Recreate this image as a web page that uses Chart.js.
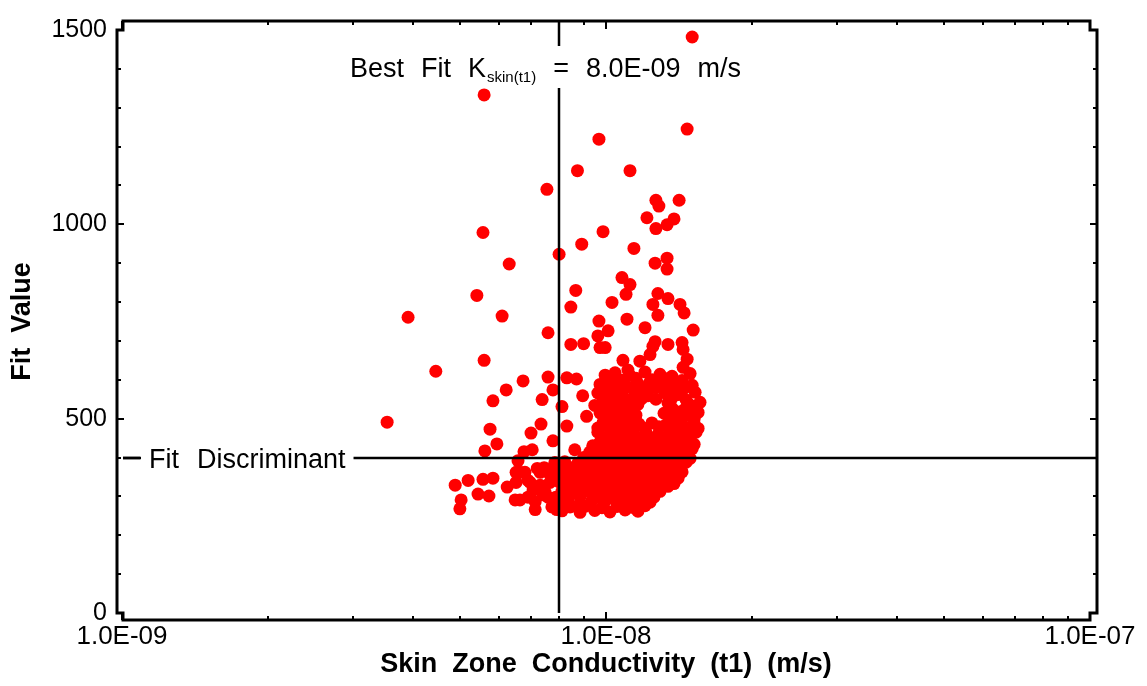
<!DOCTYPE html>
<html>
<head>
<meta charset="utf-8">
<script src="https://cdn.jsdelivr.net/npm/chart.js@4/dist/chart.umd.min.js"></script>
<style>
  html, body { margin: 0; padding: 0; background: #fff; }
  canvas { display: block; }
</style>
</head>
<body>
<canvas id="fitChart" width="1147" height="686"></canvas>
<script>
// Axis limits and tick values
const kRange = [1e-9, 1e-7];
const fitRange = [0, 1500];
const fitTicks = [0, 500, 1000, 1500];

// Reference lines
const bestFitK = 8.0e-9;
const fitDiscriminant = 400;

// [conductivity (m/s), fit value] - sparse upper part
const upperPoints = [
    [15.07e-9, 1482], [5.60e-9, 1333], [14.71e-9, 1245], [9.67e-9, 1219],
    [8.73e-9, 1138], [11.21e-9, 1138], [7.55e-9, 1090], [12.68e-9, 1062],
    [12.86e-9, 1047], [14.16e-9, 1062], [12.15e-9, 1017], [12.68e-9, 989],
    [13.37e-9, 999], [13.82e-9, 1014], [5.57e-9, 979], [9.86e-9, 981],
    [8.91e-9, 949], [11.42e-9, 938], [8.00e-9, 923], [12.63e-9, 900],
    [13.37e-9, 913], [13.37e-9, 885], [6.31e-9, 898], [10.79e-9, 863],
    [11.21e-9, 845], [11.0e-9, 820], [8.66e-9, 830], [8.46e-9, 787],
    [10.29e-9, 799], [9.67e-9, 751], [10.1e-9, 726], [9.62e-9, 713],
    [11.05e-9, 756], [12.04e-9, 734], [12.50e-9, 794], [13.43e-9, 809],
    [12.80e-9, 822], [12.80e-9, 766], [14.22e-9, 794], [14.50e-9, 772],
    [15.14e-9, 728], [7.59e-9, 721], [8.46e-9, 691], [8.99e-9, 693],
    [9.72e-9, 683], [9.96e-9, 683], [12.63e-9, 698], [12.50e-9, 686],
    [13.43e-9, 691], [14.36e-9, 696], [14.43e-9, 678], [10.84e-9, 650],
    [11.75e-9, 648], [12.33e-9, 665], [14.71e-9, 653], [14.43e-9, 632],
    [11.1e-9, 625]
];

// [conductivity (m/s), fit value] - low-K side, around the best fit line
const lowerPoints = [
    [5.41e-9, 817], [3.90e-9, 761], [6.10e-9, 764], [5.60e-9, 650],
    [4.45e-9, 622], [6.74e-9, 597], [7.59e-9, 607], [8.30e-9, 605],
    [8.69e-9, 602], [6.22e-9, 574], [7.77e-9, 574], [5.84e-9, 546],
    [7.38e-9, 549], [8.11e-9, 531], [8.95e-9, 559], [9.48e-9, 534],
    [3.53e-9, 491], [5.76e-9, 473], [7.34e-9, 486], [8.30e-9, 481],
    [9.12e-9, 506], [7.00e-9, 463], [7.77e-9, 443], [5.95e-9, 435],
    [5.62e-9, 417], [6.77e-9, 415], [7.04e-9, 420], [8.62e-9, 420],
    [9.39e-9, 430], [6.58e-9, 392], [7.84e-9, 387], [7.91e-9, 382],
    [6.52e-9, 362], [4.88e-9, 329], [5.19e-9, 341], [5.57e-9, 344],
    [5.84e-9, 347], [6.25e-9, 324], [6.52e-9, 336], [6.97e-9, 336],
    [7.31e-9, 329], [7.66e-9, 336], [5.44e-9, 306], [5.73e-9, 301],
    [5.02e-9, 291], [4.99e-9, 268], [6.49e-9, 291], [7.07e-9, 316],
    [7.41e-9, 304], [7.91e-9, 266], [6.80e-9, 362], [7.31e-9, 362],
    [7.59e-9, 298], [7.73e-9, 273], [7.14e-9, 286], [7.45e-9, 374],
    [6.90e-9, 298], [6.64e-9, 362], [6.90e-9, 341], [7.21e-9, 372],
    [7.48e-9, 311], [7.73e-9, 341], [6.64e-9, 291], [7.14e-9, 266],
    [7.59e-9, 362], [7.88e-9, 298], [8.03e-9, 336], [8.11e-9, 286],
    [7.88e-9, 362]
];

// [conductivity (m/s), fit value] - dense cluster between 1E-08 and 1.6E-08
const clusterPoints = [
    [9.96e-9, 612], [10.44e-9, 618], [11.21e-9, 611], [12.04e-9, 620], [12.93e-9, 614], [13.69e-9, 609], [14.92e-9, 616],
    [10.19e-9, 602], [10.79e-9, 599], [11.53e-9, 604], [12.45e-9, 600], [13.30e-9, 603], [14.36e-9, 598],
    [9.72e-9, 588], [10.29e-9, 592], [10.95e-9, 585], [11.64e-9, 590], [12.33e-9, 594], [13.05e-9, 587], [13.89e-9, 591], [15.07e-9, 586],
    [10.0e-9, 577], [10.59e-9, 574], [11.32e-9, 579], [11.98e-9, 576], [12.68e-9, 580], [13.49e-9, 575], [14.50e-9, 578],
    [9.62e-9, 566], [10.19e-9, 561], [10.79e-9, 568], [11.48e-9, 563], [12.21e-9, 559], [13.24e-9, 566], [14.09e-9, 562], [15.28e-9, 568],
    [9.91e-9, 551], [10.49e-9, 554], [11.21e-9, 549], [11.86e-9, 552], [12.68e-9, 550], [13.69e-9, 553], [14.64e-9, 548],
    [9.81e-9, 541], [10.39e-9, 536], [11.0e-9, 543], [11.64e-9, 537], [13.43e-9, 540], [14.92e-9, 535], [15.64e-9, 542],
    [10.1e-9, 526], [10.69e-9, 528], [11.32e-9, 524], [13.69e-9, 527], [14.50e-9, 523], [15.21e-9, 529],
    [9.72e-9, 515], [10.29e-9, 511], [10.9e-9, 517], [11.53e-9, 509], [13.18e-9, 514], [13.96e-9, 518], [14.78e-9, 510], [15.5e-9, 516],
    [10.0e-9, 501], [10.59e-9, 498], [11.21e-9, 503], [13.56e-9, 500], [14.36e-9, 502], [15.21e-9, 499],
    [9.86e-9, 490], [10.44e-9, 485], [11.05e-9, 492], [11.7e-9, 486], [12.44e-9, 489], [13.3e-9, 484], [14.22e-9, 491], [15.21e-9, 487],
    [9.62e-9, 476], [10.14e-9, 478], [10.74e-9, 474], [11.37e-9, 477], [12.04e-9, 475], [12.86e-9, 479], [13.75e-9, 473], [14.71e-9, 477], [15.5e-9, 475],
    [9.62e-9, 465], [10.19e-9, 460], [10.79e-9, 466], [11.42e-9, 461], [12.1e-9, 464], [12.8e-9, 459], [13.56e-9, 467], [14.36e-9, 462], [15.35e-9, 465],
    [9.91e-9, 450], [10.49e-9, 452], [11.1e-9, 448], [11.75e-9, 451], [12.44e-9, 449], [13.30e-9, 453], [14.09e-9, 447], [14.92e-9, 450],
    [9.72e-9, 440], [10.29e-9, 436], [10.9e-9, 441], [11.53e-9, 435], [12.21e-9, 439], [12.93e-9, 442], [13.69e-9, 437], [14.5e-9, 440], [15.21e-9, 434],
    [9.53e-9, 425], [10.0e-9, 427], [10.59e-9, 423], [11.21e-9, 426], [11.86e-9, 424], [12.68e-9, 428], [13.43e-9, 422], [14.22e-9, 425], [15.07e-9, 423],
    [9.26e-9, 414], [9.81e-9, 410], [10.39e-9, 415], [11.0e-9, 409], [11.64e-9, 413], [12.33e-9, 416], [13.05e-9, 411], [13.82e-9, 414], [14.78e-9, 409],
    [8.99e-9, 400], [9.53e-9, 402], [10.1e-9, 398], [10.69e-9, 401], [11.32e-9, 399], [11.98e-9, 403], [12.68e-9, 397], [13.43e-9, 400], [14.22e-9, 402], [14.92e-9, 398],
    [8.22e-9, 389], [8.73e-9, 384], [9.26e-9, 390], [9.81e-9, 385], [10.39e-9, 388], [11.0e-9, 383], [11.64e-9, 391], [12.33e-9, 386], [13.05e-9, 389], [13.82e-9, 384], [14.64e-9, 388],
    [8.43e-9, 374], [8.91e-9, 376], [9.44e-9, 372], [10.0e-9, 375], [10.59e-9, 373], [11.21e-9, 377], [11.86e-9, 371], [12.56e-9, 374], [13.43e-9, 376], [14.22e-9, 372],
    [8.11e-9, 364], [8.62e-9, 359], [9.16e-9, 365], [9.72e-9, 360], [10.29e-9, 363], [10.9e-9, 358], [11.53e-9, 366], [12.21e-9, 361], [12.93e-9, 364], [13.69e-9, 359], [14.36e-9, 363],
    [8.34e-9, 349], [8.84e-9, 351], [9.44e-9, 347], [10.0e-9, 350], [10.59e-9, 348], [11.21e-9, 352], [11.86e-9, 346], [12.56e-9, 349], [13.30e-9, 351], [14.09e-9, 347],
    [8.22e-9, 338], [8.73e-9, 333], [9.26e-9, 339], [9.81e-9, 334], [10.39e-9, 337], [11.0e-9, 332], [11.64e-9, 340], [12.33e-9, 335], [13.05e-9, 338], [13.82e-9, 333],
    [8.43e-9, 324], [8.91e-9, 326], [9.44e-9, 322], [10.0e-9, 325], [10.59e-9, 323], [11.21e-9, 327], [11.86e-9, 321], [12.56e-9, 324], [13.43e-9, 326],
    [8.11e-9, 313], [8.62e-9, 308], [9.16e-9, 314], [9.72e-9, 309], [10.29e-9, 312], [10.9e-9, 307], [11.53e-9, 315], [12.21e-9, 310], [12.93e-9, 313],
    [8.22e-9, 298], [8.84e-9, 300], [9.44e-9, 296], [10.0e-9, 299], [10.59e-9, 297], [11.21e-9, 301], [11.86e-9, 295], [12.56e-9, 298],
    [8.34e-9, 288], [8.84e-9, 283], [9.35e-9, 289], [9.91e-9, 284], [10.49e-9, 287], [11.1e-9, 282], [11.75e-9, 290], [12.33e-9, 285],
    [8.43e-9, 273], [9.07e-9, 275], [9.81e-9, 271], [10.54e-9, 274], [11.32e-9, 272], [12.04e-9, 276],
    [8.11e-9, 263], [8.84e-9, 259], [9.48e-9, 264], [10.19e-9, 260], [10.95e-9, 265], [11.64e-9, 262]
];

const FONT = "'Liberation Sans', Arial, sans-serif";

const allPoints = upperPoints.concat(lowerPoints, clusterPoints).map(p => ({ x: p[0], y: p[1] }));

// 1.0E-09 style labels for the decades, nothing for the minor ticks
function expLabel(value) {
    const e = Math.log10(value);
    if (Math.abs(e - Math.round(e)) > 1e-6) return '';
    const n = Math.round(e);
    const sign = n < 0 ? '-' : '+';
    return '1.0E' + sign + String(Math.abs(n)).padStart(2, '0');
}

// write words with a fixed gap between them, returns the end x
function drawWords(ctx, words, x, y, gap) {
    words.forEach((w, i) => {
        ctx.fillText(w, x, y);
        x += ctx.measureText(w).width + (i < words.length - 1 ? gap : 0);
    });
    return x;
}

// Frame, tick marks, reference lines and their labels
const framePlugin = {
    id: 'framePlugin',
    afterDatasetsDraw(chart) {
        const { ctx, chartArea: a, scales: { x, y } } = chart;
        const L = a.left, R = a.right, T = a.top, B = a.bottom;
        const xL = L - 5, xR = R + 7, yT = T - 9, yB = B + 7;
        ctx.save();
        ctx.strokeStyle = '#000';
        ctx.fillStyle = '#000';

        // reference lines
        ctx.lineWidth = 2.5;
        const vx = Math.round(x.getPixelForValue(bestFitK));
        const hy = Math.round(y.getPixelForValue(fitDiscriminant));
        ctx.beginPath();
        ctx.moveTo(vx, yT); ctx.lineTo(vx, B);
        ctx.moveTo(L + 1, hy); ctx.lineTo(xR, hy);
        ctx.stroke();

        // best fit label with white backing
        const big = '27px ' + FONT;
        const small = '15px ' + FONT;
        const gap = 17;
        const baseY = T + 47;
        let tx = vx - 209;
        ctx.font = big;
        let w = ctx.measureText('Best').width + ctx.measureText('Fit').width + ctx.measureText('K').width + 2 * gap;
        ctx.font = small;
        w += ctx.measureText('skin(t1)').width + gap;
        ctx.font = big;
        w += ctx.measureText('=').width + ctx.measureText('8.0E-09').width + ctx.measureText('m/s').width + 2 * gap;
        ctx.fillStyle = '#fff';
        ctx.fillRect(tx - 6, T + 16, w + 12, 42);
        ctx.fillStyle = '#000';
        ctx.textBaseline = 'alphabetic';
        ctx.textAlign = 'left';
        ctx.font = big;
        tx = drawWords(ctx, ['Best', 'Fit', 'K'], tx, baseY, gap);
        ctx.font = small;
        ctx.fillText('skin(t1)', tx + 1, baseY + 5);
        tx += ctx.measureText('skin(t1)').width + 1 + gap;
        ctx.font = big;
        drawWords(ctx, ['=', '8.0E-09', 'm/s'], tx, baseY, gap);

        // discriminant label
        ctx.font = big;
        const dx = L + 27;
        const dw = ctx.measureText('Fit').width + ctx.measureText('Discriminant').width + 18;
        ctx.fillStyle = '#fff';
        ctx.fillRect(dx - 8, hy - 14, dw + 16, 28);
        ctx.fillStyle = '#000';
        ctx.beginPath();
        ctx.moveTo(L + 1, hy); ctx.lineTo(L + 18, hy);
        ctx.stroke();
        drawWords(ctx, ['Fit', 'Discriminant'], dx, hy + 10, 18);

        // frame with stepped corners
        ctx.lineWidth = 3;
        ctx.lineJoin = 'miter';
        ctx.beginPath();
        ctx.moveTo(xL, T);
        ctx.lineTo(xL, B);
        ctx.lineTo(L + 1, B);
        ctx.lineTo(L + 1, yB);
        ctx.lineTo(R, yB);
        ctx.lineTo(R, B);
        ctx.lineTo(xR, B);
        ctx.lineTo(xR, T);
        ctx.lineTo(R, T);
        ctx.lineTo(R, yT);
        ctx.lineTo(L + 1, yT);
        ctx.lineTo(L + 1, T);
        ctx.closePath();
        ctx.stroke();

        // tick marks
        ctx.lineWidth = 2;
        ctx.beginPath();
        for (let v = fitRange[0]; v <= fitRange[1]; v += 100) {
            const py = Math.round(y.getPixelForValue(v));
            const len = v % 500 === 0 ? 7 : 4;
            ctx.moveTo(xL, py); ctx.lineTo(xL + len, py);
            ctx.moveTo(xR, py); ctx.lineTo(xR - len, py);
        }
        for (let d = kRange[0]; d < kRange[1] * 0.99; d *= 10) {
            for (let m = 1; m <= 9; m++) {
                const px = Math.round(x.getPixelForValue(m * d));
                const len = m === 1 ? 8 : 4;
                ctx.moveTo(px, yB); ctx.lineTo(px, yB - len);
                ctx.moveTo(px, yT); ctx.lineTo(px, yT + len);
            }
        }
        ctx.stroke();
        ctx.restore();
    }
};

new Chart(document.getElementById('fitChart').getContext('2d'), {
    type: 'scatter',
    data: {
        datasets: [{
            label: 'Fit Value',
            data: allPoints,
            backgroundColor: '#ff0000',
            borderWidth: 0,
            pointRadius: 6.5,
            pointHoverRadius: 6.5
        }]
    },
    options: {
        responsive: false,
        animation: false,
        events: [],
        layout: { padding: { left: 0, top: 20, right: 57, bottom: 0 } },
        scales: {
            x: {
                type: 'logarithmic',
                min: kRange[0],
                max: kRange[1],
                afterFit: scale => { scale.height = 73; },
                grid: { display: false, drawTicks: false },
                border: { display: false },
                ticks: {
                    autoSkip: false,
                    maxRotation: 0,
                    padding: 8,
                    color: '#000',
                    font: { family: FONT, size: 26 },
                    callback: value => expLabel(value)
                },
                title: {
                    display: true,
                    text: 'Skin  Zone  Conductivity  (t1)  (m/s)',
                    color: '#000',
                    font: { family: FONT, size: 27, weight: 'bold' },
                    padding: { top: 0, bottom: 5 }
                }
            },
            y: {
                min: fitRange[0],
                max: fitRange[1],
                afterFit: scale => { scale.width = 122; },
                afterBuildTicks: scale => { scale.ticks = fitTicks.map(v => ({ value: v })); },
                grid: { display: false, drawTicks: false },
                border: { display: false },
                ticks: {
                    padding: 15,
                    color: '#000',
                    font: { family: FONT, size: 25 },
                    callback: value => String(value)
                },
                title: {
                    display: true,
                    text: 'Fit  Value',
                    color: '#000',
                    font: { family: FONT, size: 27, weight: 'bold' },
                    padding: { top: 6, bottom: 0 }
                }
            }
        },
        plugins: {
            legend: { display: false },
            tooltip: { enabled: false }
        }
    },
    plugins: [framePlugin]
});
</script>
</body>
</html>
